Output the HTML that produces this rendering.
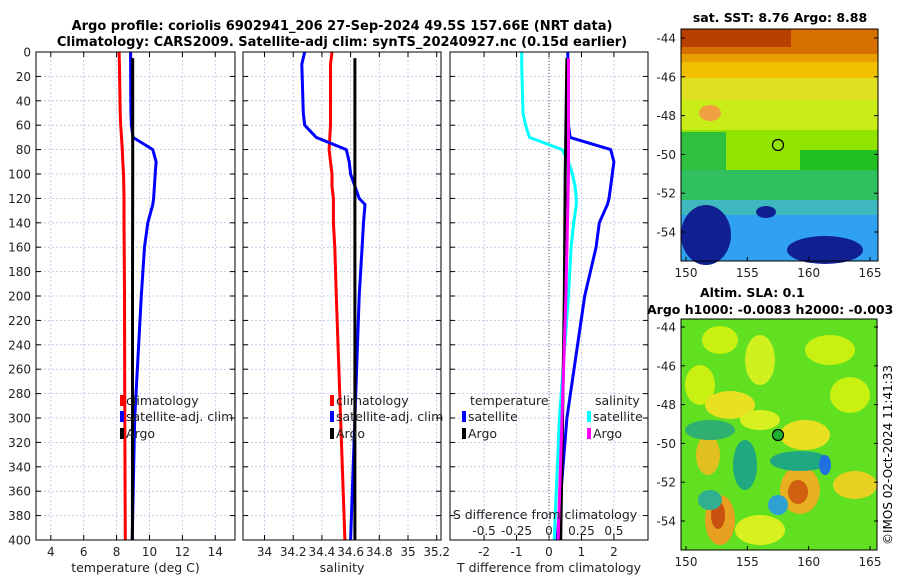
<!DOCTYPE html>
<html><head><meta charset="utf-8"><style>
body{margin:0;background:#fff;font-family:"Liberation Sans","DejaVu Sans",sans-serif}
svg text{font-family:"DejaVu Sans","Liberation Sans",sans-serif}
</style></head><body>
<svg id="fig" width="900" height="580" xmlns="http://www.w3.org/2000/svg">
<text x="342" y="30" font-size="13" font-weight="bold" text-anchor="middle">Argo profile: coriolis 6902941_206 27-Sep-2024 49.5S 157.66E (NRT data)</text>
<text x="342" y="46" font-size="13" font-weight="bold" text-anchor="middle">Climatology: CARS2009. Satellite-adj clim: synTS_20240927.nc (0.15d earlier)</text>
<g id="p1"></g>
<g id="p2"></g>
<g id="p3"></g>
<g>
<text x="780" y="22" font-size="12.5" font-weight="bold" text-anchor="middle">sat. SST: 8.76 Argo: 8.88</text>
<rect x="681" y="29" width="197" height="232" fill="#e8a000"/>
<rect x="681" y="29" width="197" height="25" fill="#d87000"/>
<rect x="681" y="29" width="110" height="18" fill="#b84000"/>
<rect x="681" y="62" width="197" height="20" fill="#f0c000"/>
<rect x="681" y="78" width="197" height="32" fill="#e0e020"/>
<rect x="681" y="100" width="197" height="35" fill="#c8ec18"/>
<rect x="681" y="130" width="197" height="45" fill="#90e400"/>
<rect x="681" y="132" width="45" height="60" fill="#30c040"/>
<rect x="800" y="150" width="78" height="55" fill="#20c020"/>
<rect x="681" y="170" width="197" height="35" fill="#30c060"/>
<rect x="681" y="200" width="197" height="20" fill="#40b8c0"/>
<rect x="681" y="215" width="197" height="46" fill="#30a0f0"/>
<ellipse cx="706" cy="235" rx="25" ry="30" fill="#102090"/>
<ellipse cx="825" cy="250" rx="38" ry="14" fill="#102090"/>
<ellipse cx="766" cy="212" rx="10" ry="6" fill="#102090"/>
<ellipse cx="710" cy="113" rx="11" ry="8" fill="#f0a040"/>
<circle cx="778" cy="145" r="5.5" fill="none" stroke="#000" stroke-width="1.2"/>
<rect x="681" y="29" width="197" height="232" fill="none" stroke="#000"/>
<g id="m1ax"></g>
</g>
<g>
<text x="700" y="297" font-size="12.5" font-weight="bold">Altim. SLA: 0.1</text>
<text x="647" y="314" font-size="12.5" font-weight="bold">Argo h1000: -0.0083 h2000: -0.003</text>
<rect x="681" y="319" width="196" height="231" fill="#60e020"/>
<ellipse cx="720" cy="340" rx="18" ry="14" fill="#c8f010"/>
<ellipse cx="760" cy="360" rx="15" ry="25" fill="#d0f020"/>
<ellipse cx="830" cy="350" rx="25" ry="15" fill="#c8f010"/>
<ellipse cx="850" cy="395" rx="20" ry="18" fill="#c8f010"/>
<ellipse cx="700" cy="385" rx="15" ry="20" fill="#c8f010"/>
<ellipse cx="730" cy="405" rx="25" ry="14" fill="#e8e020"/>
<ellipse cx="760" cy="420" rx="20" ry="10" fill="#d8f020"/>
<ellipse cx="708" cy="455" rx="12" ry="20" fill="#e0c020"/>
<ellipse cx="805" cy="435" rx="25" ry="15" fill="#e8e020"/>
<ellipse cx="800" cy="490" rx="20" ry="24" fill="#e8b020"/>
<ellipse cx="798" cy="492" rx="10" ry="12" fill="#d06010"/>
<ellipse cx="720" cy="520" rx="15" ry="25" fill="#e8a020"/>
<ellipse cx="718" cy="515" rx="7" ry="14" fill="#c85010"/>
<ellipse cx="855" cy="485" rx="22" ry="14" fill="#e8d020"/>
<ellipse cx="760" cy="530" rx="25" ry="15" fill="#d8f020"/>
<ellipse cx="800" cy="461" rx="30" ry="10" fill="#20a880"/>
<ellipse cx="825" cy="465" rx="6" ry="10" fill="#2070e0"/>
<ellipse cx="710" cy="430" rx="25" ry="10" fill="#30b070"/>
<ellipse cx="745" cy="465" rx="12" ry="25" fill="#20a880"/>
<ellipse cx="710" cy="500" rx="12" ry="10" fill="#30b090"/>
<ellipse cx="778" cy="505" rx="10" ry="10" fill="#30a0d0"/>
<circle cx="778" cy="435" r="5.5" fill="#20b030" stroke="#000" stroke-width="1.2"/>
<rect x="681" y="319" width="196" height="231" fill="none" stroke="#000"/>
<g id="m2ax"></g>
</g>
<text transform="translate(892,545) rotate(-90)" font-size="12">©IMOS 02-Oct-2024 11:41:33</text>
</svg>
<script>
const depths=[0,10,50,60,70,80,90,100,110,120,125,140,160,200,300,400];
const tClim=[8.15,8.17,8.22,8.25,8.3,8.35,8.38,8.42,8.44,8.45,8.45,8.45,8.46,8.48,8.5,8.53];
const tSat=[8.85,8.85,8.87,8.9,9.0,10.2,10.4,10.35,10.3,10.25,10.2,9.9,9.7,9.5,9.1,8.95];
const argoDepths=[5,100,200,300,400];
const tArgo=[8.98,8.98,8.97,8.97,8.96];
const sClim=[34.47,34.46,34.46,34.46,34.455,34.45,34.46,34.47,34.47,34.48,34.48,34.48,34.49,34.5,34.53,34.56];
const sSat=[34.28,34.26,34.27,34.28,34.36,34.57,34.59,34.6,34.63,34.66,34.7,34.69,34.68,34.66,34.63,34.6];
const sArgo=[34.63,34.63,34.63,34.63,34.63];
const dTsat=[0.58,0.58,0.6,0.6,0.65,1.9,2.0,1.95,1.9,1.85,1.8,1.55,1.45,1.1,0.55,0.25];
const dTargo=[0.55,0.5,0.47,0.42,0.36];
const dSsat=[-0.21,-0.21,-0.2,-0.18,-0.15,0.1,0.15,0.18,0.2,0.21,0.21,0.19,0.17,0.15,0.08,0.04];
const dSargo=[0.15,0.15,0.13,0.1,0.07];
const t1Ticks=[4,6,8,10,12,14];
const t2Ticks=[34,34.2,34.4,34.6,34.8,35,35.2];
const t2Labels=["34","34.2","34.4","34.6","34.8","35","35.2"];
const t3Ticks=[-2,-1,0,1,2];
const s3Ticks=[-0.5,-0.25,0,0.25,0.5];
const yTicks=[0,20,40,60,80,100,120,140,160,180,200,220,240,260,280,300,320,340,360,380,400];
const NS='http://www.w3.org/2000/svg';
function mk(p,tag,a,txt){const e=document.createElementNS(NS,tag);for(const k in a)e.setAttribute(k,a[k]);if(txt!==undefined)e.textContent=txt;p.appendChild(e);return e;}
const Y0=52,Y1=540;
function y(d){return Y0+(d/400)*(Y1-Y0);}
function panel(g,x0,x1,d0,d1,ticks,labels,xlabel,showY){
  const x=v=>x0+(v-d0)/(d1-d0)*(x1-x0);
  ticks.forEach((t,i)=>{const gl=mk(g,'line',{x1:x(t),x2:x(t),y1:Y0,y2:Y1,stroke:'#b8c4e8','stroke-dasharray':'2,2','stroke-width':0.8});
    
    const lb=mk(g,'text',{x:x(t),y:556,'font-size':12,'text-anchor':'middle',fill:'#222'},labels[i]);
    
    mk(g,'line',{x1:x(t),x2:x(t),y1:Y1,y2:Y1-5,stroke:'#000'});mk(g,'line',{x1:x(t),x2:x(t),y1:Y0,y2:Y0+5,stroke:'#000'});});
  yTicks.forEach(t=>{const gl=mk(g,'line',{x1:x0,x2:x1,y1:y(t),y2:y(t),stroke:'#b8c4e8','stroke-dasharray':'2,2','stroke-width':0.8});
    
    mk(g,'line',{x1:x0,x2:x0+5,y1:y(t),y2:y(t),stroke:'#000'});mk(g,'line',{x1:x1,x2:x1-5,y1:y(t),y2:y(t),stroke:'#000'});
    if(showY){const lb=mk(g,'text',{x:x0-5,y:y(t)+4.5,'font-size':12,'text-anchor':'end',fill:'#222'},String(t));
      }});
  const xl=mk(g,'text',{x:(x0+x1)/2,y:572,'font-size':12.5,'text-anchor':'middle',fill:'#222'},xlabel);
  
  return x;
}
function frame(g,x0,x1){const r=mk(g,'rect',{x:x0,y:Y0,width:x1-x0,height:Y1-Y0,fill:'none',stroke:'#000'});}
function line(g,xf,vals,ds,color,name){const pts=vals.map((v,i)=>xf(v).toFixed(1)+','+y(ds[i]).toFixed(1)).join(' ');
  const l=mk(g,'polyline',{points:pts,fill:'none',stroke:color,'stroke-width':3,'stroke-linejoin':'round'});
  }
function leg(g,x,yy,color,txt){mk(g,'rect',{x:x,y:yy-10,width:4,height:11,fill:color});
  const t=mk(g,'text',{x:x+6,y:yy,'font-size':12.5,fill:'#222'},txt);}
const p1=document.getElementById('p1'),p2=document.getElementById('p2'),p3=document.getElementById('p3');
const x1f=panel(p1,36,235,3.1,15.2,t1Ticks,t1Ticks.map(String),'temperature (deg C)',true);
line(p1,x1f,tClim,depths,'#f00','temp-climatology-line');line(p1,x1f,tSat,depths,'#00f','temp-satellite-line');line(p1,x1f,tArgo,argoDepths,'#000','temp-argo-line');
leg(p1,120,405,'#f00','climatology');leg(p1,120,421,'#00f','satellite-adj. clim');leg(p1,120,438,'#000','Argo');frame(p1,36,235);
const x2f=panel(p2,243,441,33.85,35.23,t2Ticks,t2Labels,'salinity',false);
line(p2,x2f,sClim,depths,'#f00','sal-climatology-line');line(p2,x2f,sSat,depths,'#00f','sal-satellite-line');line(p2,x2f,sArgo,argoDepths,'#000','sal-argo-line');
leg(p2,330,405,'#f00','climatology');leg(p2,330,421,'#00f','satellite-adj. clim');leg(p2,330,438,'#000','Argo');frame(p2,243,441);
const x3f=panel(p3,450,648,-3.05,3.05,t3Ticks,t3Ticks.map(String),'T difference from climatology',false);
mk(p3,'line',{x1:x3f(0),x2:x3f(0),y1:Y0,y2:Y1,stroke:'#555','stroke-dasharray':'1,2'});
const xs=v=>x3f(v*4);
line(p3,x3f,dTsat,depths,'#00f','tdiff-satellite-line');line(p3,xs,dSsat,depths,'#0ff','sdiff-satellite-line');
line(p3,x3f,dTargo,argoDepths,'#000','tdiff-argo-line');line(p3,xs,dSargo,argoDepths,'#f0f','sdiff-argo-line');
mk(p3,'text',{x:470,y:405,'font-size':12.5,fill:'#222'},'temperature');mk(p3,'text',{x:595,y:405,'font-size':12.5,fill:'#222'},'salinity');
leg(p3,462,421,'#00f','satellite');leg(p3,462,438,'#000','Argo');leg(p3,587,421,'#0ff','satellite');leg(p3,587,438,'#f0f','Argo');
mk(p3,'text',{x:545,y:519,'font-size':12.5,'text-anchor':'middle',fill:'#222'},'S difference from climatology');
s3Ticks.forEach(t=>{const lb=mk(p3,'text',{x:xs(t),y:535,'font-size':12,'text-anchor':'middle',fill:'#222'},String(t));});
frame(p3,450,648);
function mapAx(id,top,bot,yA,yB){const g=document.getElementById(id);
  [150,155,160,165].forEach(v=>{const xx=686+(v-150)*(184/15);mk(g,'text',{x:xx,y:bot+16,'font-size':12,'text-anchor':'middle',fill:'#222'},String(v));mk(g,'line',{x1:xx,x2:xx,y1:bot,y2:bot-4,stroke:'#000'});});
  [-44,-46,-48,-50,-52,-54].forEach((v,i)=>{const yy=yA+i*(yB-yA)/5;mk(g,'text',{x:676,y:yy+4.5,'font-size':12,'text-anchor':'end',fill:'#222'},String(v));mk(g,'line',{x1:681,x2:685,y1:yy,y2:yy,stroke:'#000'});mk(g,'line',{x1:878,x2:874,y1:yy,y2:yy,stroke:'#000'});});}
mapAx('m1ax',29,261,38,232);mapAx('m2ax',319,550,327,521);
</script>
</body></html>
